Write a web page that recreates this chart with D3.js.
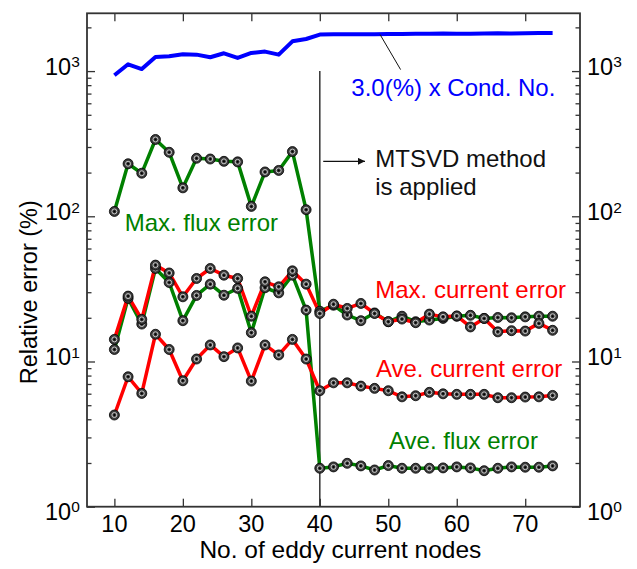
<!DOCTYPE html>
<meta charset="utf-8">
<head>
<script src="https://cdn.jsdelivr.net/npm/d3@7"></script>
<style>
  body { margin: 0; background: #fff; }
  text { font-family: "Liberation Sans", Arial, sans-serif; }
  .tick line { stroke: #333; stroke-width: 1.3px; }
  .domain { display: none; }
</style>
</head>
<body>
<div id="chart"></div>
<script>
// number of eddy current nodes (x)
var nodes = [10,12,14,16,18,20,22,24,26,28,30,32,34,36,38,40,42,44,46,48,50,52,54,56,58,60,62,64,66,68,70,72,74];

// 3.0(%) x condition number
var condNo = [936,1114,1033,1250,1265,1305,1298,1245,1326,1231,1333,1362,1298,1603,1664,1783,
              1790,1790,1795,1795,1800,1800,1805,1810,1815,1810,1810,1815,1820,1815,1820,1830,1830];
// relative errors (%)
var maxFlux = [108,230,198,338,276,157,251,248,239,237,117,202,207,279,111,22.2,
               24.4,20.9,19.1,21.6,18.8,20.5,18.8,19.3,19.8,20.5,20.8,19.8,20.1,20.0,20.3,20.5,20.5];
var aveFlux = [12.1,27.2,18.1,43.7,35.0,19.1,28.5,34.1,28.6,31.9,15.8,32.2,29.7,39.3,22.6,1.84,
               1.88,1.99,1.91,1.79,1.92,1.84,1.84,1.84,1.85,1.88,1.85,1.77,1.84,1.88,1.87,1.87,1.91];
var maxCurrent = [14.2,28.2,19.5,46.1,40.7,27.9,37.3,43.7,39.3,37.3,20.5,35.4,32.7,42.1,34.1,21.4,
                  24.8,23.2,25.1,21.4,18.8,19.6,18.5,21.2,20.3,20.6,17.3,19.8,16.0,16.3,16.2,18.3,16.4];
var aveCurrent = [4.28,7.85,6.03,15.4,12.1,7.37,10.4,13.0,10.8,12.4,7.33,13.0,11.1,14.2,10.4,6.29,
                  7.13,7.13,6.77,6.53,6.29,5.71,5.81,6.13,5.99,5.94,5.94,5.94,5.63,5.63,5.69,5.71,5.84];

// tick labels
var xTicks = [10,20,30,40,50,60,70];
var yTicks = [1,10,100,1000];
var yExp = ["0","1","2","3"];

var width = 637, height = 569;
var margin = {top: 13.3, right: 57, bottom: 62.3, left: 87};
var iw = width - margin.left - margin.right,
    ih = height - margin.top - margin.bottom;

var svg = d3.select("#chart").append("svg")
    .attr("width", width)
    .attr("height", height);

var x = d3.scaleLinear().domain([6, 78]).range([margin.left, margin.left + iw]);
var y = d3.scaleLog().domain([1, 2500]).range([margin.top + ih, margin.top]);

var yMinor = y.ticks().filter(function(v) { return yTicks.indexOf(v) < 0; });

svg.append("defs").append("marker")
    .attr("id", "arrow")
    .attr("viewBox", "0 0 10 10")
    .attr("refX", 10).attr("refY", 5)
    .attr("markerWidth", 9).attr("markerHeight", 7)
    .attr("markerUnits", "userSpaceOnUse")
    .attr("orient", "auto")
  .append("path")
    .attr("d", "M0,0L10,5L0,10z")
    .attr("fill", "#111");

// axes: ticks point inwards on all four sides
var bottom = margin.top + ih, right = margin.left + iw;
svg.append("g").attr("transform", "translate(0," + bottom + ")")
    .call(d3.axisBottom(x).tickValues(xTicks).tickSize(-8).tickFormat(""));
svg.append("g").attr("transform", "translate(0," + margin.top + ")")
    .call(d3.axisTop(x).tickValues(xTicks).tickSize(-8).tickFormat(""));
svg.append("g").attr("transform", "translate(" + margin.left + ",0)")
    .call(d3.axisLeft(y).tickValues(yTicks).tickSize(-8).tickFormat(""));
svg.append("g").attr("transform", "translate(" + margin.left + ",0)")
    .call(d3.axisLeft(y).tickValues(yMinor).tickSize(-4.5).tickFormat(""));
svg.append("g").attr("transform", "translate(" + right + ",0)")
    .call(d3.axisRight(y).tickValues(yTicks).tickSize(-8).tickFormat(""));
svg.append("g").attr("transform", "translate(" + right + ",0)")
    .call(d3.axisRight(y).tickValues(yMinor).tickSize(-4.5).tickFormat(""));

svg.append("rect")
    .attr("x", margin.left).attr("y", margin.top)
    .attr("width", iw).attr("height", ih)
    .attr("fill", "none").attr("stroke", "#333").attr("stroke-width", 1.8);

// x tick labels
svg.selectAll(".xlab").data(xTicks).enter().append("text")
    .attr("x", d => x(d)).attr("y", bottom + 25)
    .attr("text-anchor", "middle")
    .style("font-size", "23.5px")
    .text(d => d);

// y tick labels (10^n) on both sides
[45, 587].forEach(function(x0) {
  var t = svg.selectAll(null).data(yTicks).enter().append("text")
      .attr("x", x0)
      .attr("y", (d, i) => y(d) + (d === 1 ? 13 : 4))
      .style("font-size", "23.5px");
  t.append("tspan").text("10");
  t.append("tspan").attr("dy", "-0.5em").style("font-size", "15.5px").text((d, i) => yExp[i]);
});

// axis titles
svg.append("text")
    .attr("x", x(43)).attr("y", 558)
    .attr("text-anchor", "middle")
    .style("font-size", "24.5px")
    .text("No. of eddy current nodes");
svg.append("text")
    .attr("transform", "translate(37," + y(30) + ") rotate(-90)")
    .attr("text-anchor", "middle")
    .style("font-size", "23.5px")
    .text("Relative error (%)");

// divider at 40 nodes, MTSVD applied from here
svg.append("line")
    .attr("x1", x(40)).attr("x2", x(40))
    .attr("y1", y(1000)).attr("y2", bottom)
    .attr("stroke", "#333").attr("stroke-width", 1.5);

var line = d3.line()
    .x((d, i) => x(nodes[i]))
    .y(d => y(d));

var series = [
  {vals: condNo, color: "#0000ff", dots: false},
  {vals: maxFlux, color: "#008000", dots: true},
  {vals: aveFlux, color: "#008000", dots: true},
  {vals: maxCurrent, color: "#ff0000", dots: true},
  {vals: aveCurrent, color: "#ff0000", dots: true}
];

series.forEach(function(s) {
  svg.append("path")
      .datum(s.vals)
      .attr("d", line)
      .attr("fill", "none")
      .attr("stroke", s.color)
      .attr("stroke-width", s.dots ? 3.5 : 4)
      .attr("stroke-linejoin", "round");
});

series.filter(s => s.dots).forEach(function(s) {
  var g = svg.append("g").selectAll("g").data(s.vals).enter().append("g")
      .attr("transform", (d, i) => "translate(" + x(nodes[i]) + "," + y(d) + ")");
  g.append("circle").attr("r", 5).attr("fill", "#3a3a3a").attr("stroke", "#000").attr("stroke-width", 0.8);
  g.append("circle").attr("r", 2.5).attr("fill", "none").attr("stroke", "#c8c8c8").attr("stroke-width", 1);
  g.append("circle").attr("r", 1).attr("fill", "#000");
});

// annotations
svg.append("line")
    .attr("x1", x(48.8)).attr("y1", y(1786))
    .attr("x2", x(51.8)).attr("y2", y(1024))
    .attr("stroke", "#111").attr("stroke-width", 1);
svg.append("line")
    .attr("x1", x(40.5)).attr("y1", y(239))
    .attr("x2", x(46.6)).attr("y2", y(239))
    .attr("stroke", "#111").attr("stroke-width", 1.3)
    .attr("marker-end", "url(#arrow)");

var notes = [
  {t: "3.0(%) x Cond. No.", nx: 44.6, ny: 671, c: "#0000ff"},
  {t: "MTSVD method", nx: 48.1, ny: 218, c: "#111"},
  {t: "is applied", nx: 48.1, ny: 141, c: "#111"},
  {t: "Max. flux error", nx: 11.5, ny: 78.9, c: "#008000"},
  {t: "Max. current error", nx: 48.1, ny: 27.2, c: "#ff0000"},
  {t: "Ave. current error", nx: 48.2, ny: 7.85, c: "#ff0000"},
  {t: "Ave. flux error", nx: 50.1, ny: 2.48, c: "#008000"}
];
svg.selectAll(".note").data(notes).enter().append("text")
    .attr("x", d => x(d.nx)).attr("y", d => y(d.ny))
    .attr("fill", d => d.c)
    .style("font-size", "24px")
    .text(d => d.t);
</script>
</body>
</html>
